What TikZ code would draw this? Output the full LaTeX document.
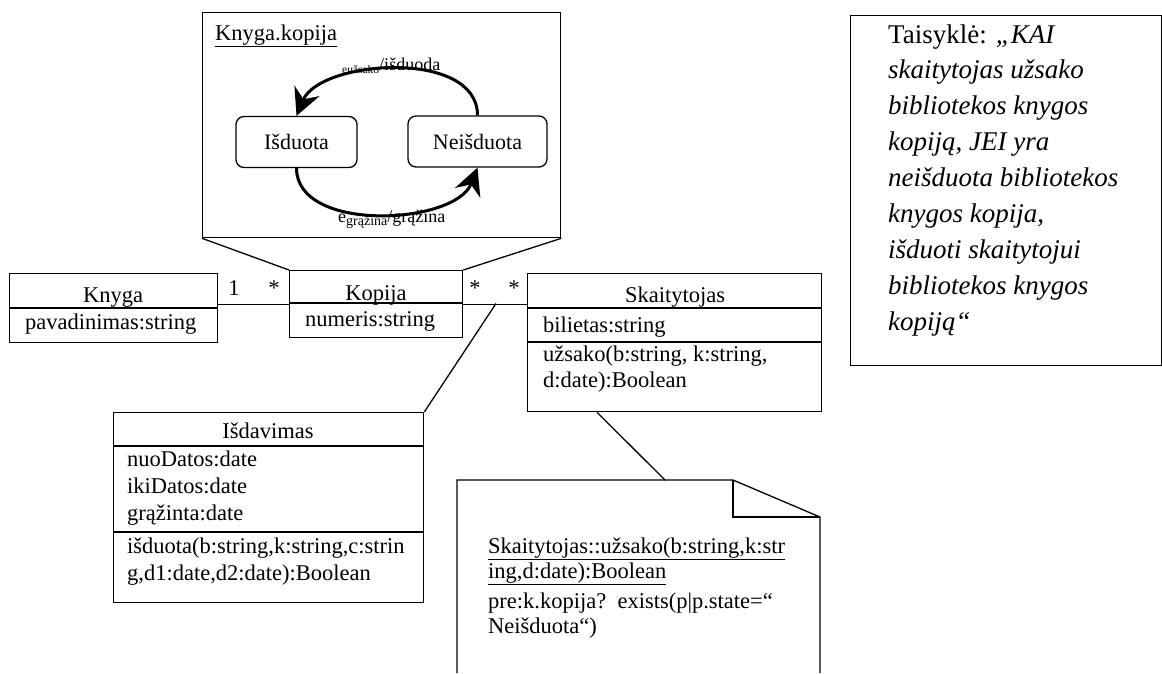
\documentclass[tikz,border=0pt]{standalone}
\usepackage{fontspec}
\setmainfont{Liberation Serif}
\usetikzlibrary{arrows.meta}
\begin{document}
\begin{tikzpicture}[x=1pt,y=-1pt,
  box/.style={draw,line width=1.3pt,inner sep=0pt,anchor=north west},
  sep/.style={line width=1.3pt},
  link/.style={line width=1.3pt},
  state/.style={draw,line width=1.3pt,rounded corners=8pt,inner sep=0pt,
    minimum height=51pt,font=\fontsize{22}{26}\selectfont},
  trans/.style={line width=3pt,-{Stealth[length=27pt,width=27pt,inset=9pt]}},
  txt/.style={inner sep=0pt,font=\fontsize{22.5}{28}\selectfont},
  lbl/.style={inner sep=0pt,font=\fontsize{18}{20}\selectfont},
  ruletxt/.style={inner sep=0pt,font=\fontsize{27}{36}\selectfont,anchor=base west}]
\useasboundingbox (0,0) rectangle (1162,673);

% composite state of a copy
\node[box,minimum width=358pt,minimum height=225pt] (comp) at (202,12) {};
\node[txt,anchor=base west] (comptitle) at (215,40) {\underline{Knyga.kopija}};
\node[state,minimum width=121pt] (isd) at (296.5,142) {Išduota};
\node[state,minimum width=139pt] (neisd) at (477.5,141.5) {Neišduota};
\node[lbl,anchor=base west] (lbltop) at (342,70)
  {\raisebox{-3pt}{\fontsize{11.5}{12}\selectfont eužsako}/išduoda};
\node[lbl,anchor=base west] (lblbot) at (338,222)
  {e\raisebox{-3pt}{\fontsize{14}{14}\selectfont grąžina}/grąžina};
\draw[trans] (neisd.north) .. controls +(0,-67) and +(23.5,-56) .. (isd.north);
\draw[trans] (isd.south) .. controls +(0,65) and +(-22.5,57.5) .. (neisd.south);

% classes
\node[box,minimum width=208pt,minimum height=69pt] (knyga) at (9,273) {};
\draw[sep] ([yshift=-35pt]knyga.north west) -- ([yshift=-35pt]knyga.north east);
\node[txt,anchor=base] (knyganame) at (113,302) {Knyga};
\node[txt,anchor=base west] (knygaattr) at (25,329) {pavadinimas:string};

\node[box,minimum width=173pt,minimum height=67pt] (kopija) at (289,270) {};
\draw[sep] ([yshift=-33pt]kopija.north west) -- ([yshift=-33pt]kopija.north east);
\node[txt,anchor=base] (kopijaname) at (376,300) {Kopija};
\node[txt,anchor=base west] (kopijaattr) at (305,326) {numeris:string};

\node[box,minimum width=294pt,minimum height=138pt] (skait) at (527,273) {};
\draw[sep] ([yshift=-35pt]skait.north west) -- ([yshift=-35pt]skait.north east);
\draw[sep] ([yshift=-69pt]skait.north west) -- ([yshift=-69pt]skait.north east);
\node[txt,anchor=base] (skaitname) at (675,302) {Skaitytojas};
\node[txt,anchor=base west] (skaitattr) at (543,332) {bilietas:string};
\node[txt,anchor=base west] (skaitop1) at (543,361) {užsako(b:string, k:string,};
\node[txt,anchor=base west] (skaitop2) at (543,387) {d:date):Boolean};

\node[box,minimum width=310pt,minimum height=190pt] (isdav) at (113,412) {};
\draw[sep] ([yshift=-34pt]isdav.north west) -- ([yshift=-34pt]isdav.north east);
\draw[sep] ([yshift=-120pt]isdav.north west) -- ([yshift=-120pt]isdav.north east);
\node[txt,anchor=base] (isdavname) at (268,438) {Išdavimas};
\node[txt,anchor=base west] (isdava1) at (127,466) {nuoDatos:date};
\node[txt,anchor=base west] (isdava2) at (127,493) {ikiDatos:date};
\node[txt,anchor=base west] (isdava3) at (127,520) {grąžinta:date};
\node[txt,anchor=base west] (isdavo1) at (127,553) {išduota(b:string,k:string,c:strin};
\node[txt,anchor=base west] (isdavo2) at (127,580) {g,d1:date,d2:date):Boolean};

% composite state attached to Kopija
\draw[link] (comp.south west) -- (kopija.north west);
\draw[link] (comp.south east) -- (kopija.north east);

% associations and multiplicities
\draw[link] (knyga.east |- kopija.west) -- (kopija.west);
\draw[link] (kopija.east) -- (skait.west |- kopija.east);
\node[txt,anchor=base] (m1) at (234,295) {1};
\node[txt,anchor=base] (m2) at (274,295) {*};
\node[txt,anchor=base] (m3) at (475,295) {*};
\node[txt,anchor=base] (m4) at (514,295) {*};
\coordinate (acjoin) at (496,303.5);
\draw[link] (acjoin) -- (isdav.north east);

% note on the operation
\coordinate (skbot) at ([xshift=70pt]skait.south west);
\coordinate (notetop) at (665,480);
\draw[link] (skbot) -- (notetop);
\draw[line width=1.3pt] (457,673) -- (457,480) -- (733,480) -- (820,517) -- (820,673);
\draw[line width=1.3pt] (733,480) -- (733,517) -- (820,517);
\node[txt,anchor=base west] (note1) at (488,553) {\underline{Skaitytojas::užsako(b:string,k:str}};
\node[txt,anchor=base west] (note2) at (488,578) {\underline{ing,d:date):Boolean}};
\node[txt,anchor=base west] (note3) at (488,608) {pre:k.kopija?\ \ exists(p|p.state=“};
\node[txt,anchor=base west] (note4) at (488,633) {Neišduota“)};

% business rule
\node[box,minimum width=311pt,minimum height=350pt] (rule) at (850,15) {};
\foreach \t [count=\i] in {{Taisyklė: \textit{„KAI}},{\textit{skaitytojas užsako}},
    {\textit{bibliotekos knygos}},{\textit{kopiją, JEI yra}},
    {\textit{neišduota bibliotekos}},{\textit{knygos kopija,}},
    {\textit{išduoti skaitytojui}},{\textit{bibliotekos knygos}},{\textit{kopiją“}}}
  \node[ruletxt] (rule\i) at (888,{43+35.9*(\i-1)}) {\t};
\end{tikzpicture}
\end{document}
